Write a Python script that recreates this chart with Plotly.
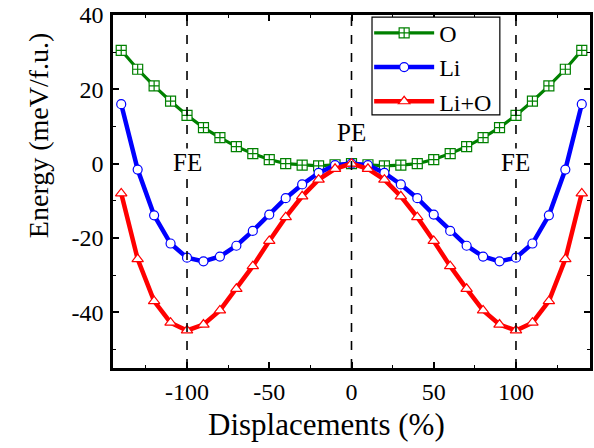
import plotly.graph_objects as go

# ---- data ----
displacement = [-140, -130, -120, -110, -100, -90, -80, -70, -60, -50, -40, -30, -20, -10, 0,
                10, 20, 30, 40, 50, 60, 70, 80, 90, 100, 110, 120, 130, 140]
energy_O = [30.5, 25.4, 20.9, 16.8, 13.0, 9.7, 7.0, 4.6, 2.7, 1.1, 0.0, -0.4, -0.6, -0.3, 0.0,
            -0.3, -0.6, -0.4, 0.0, 1.1, 2.7, 4.6, 7.0, 9.7, 13.0, 16.8, 20.9, 25.4, 30.5]
energy_Li = [16.0, -1.6, -13.9, -21.5, -25.3, -26.3, -25.0, -22.1, -18.1, -13.7, -9.3, -5.6, -2.5, -0.4, 0.0,
             -0.4, -2.5, -5.6, -9.3, -13.7, -18.1, -22.1, -25.0, -26.3, -25.3, -21.5, -13.9, -1.6, 16.0]
energy_LiO = [-8.0, -25.7, -37.0, -42.8, -44.9, -43.3, -39.5, -33.7, -27.6, -20.8, -14.4, -8.8, -4.3, -1.4, 0.0,
              -1.4, -4.3, -8.8, -14.4, -20.8, -27.6, -33.7, -39.5, -43.3, -44.9, -42.8, -37.0, -25.7, -8.0]
phase_x = [-100, 0, 100]
phase_label_y = [0.3, 8.3, 0.3]
phase_labels = ["FE", "PE", "FE"]
x_ticks = [-100, -50, 0, 50, 100]
x_tick_labels = ["-100", "-50", "0", "50", "100"]
y_ticks = [-40, -20, 0, 20, 40]
y_tick_labels = ["-40", "-20", "0", "20", "40"]

FONT = "Liberation Serif"

fig = go.Figure()
fig.add_trace(go.Scatter(
    x=displacement, y=energy_O, name="O", mode="lines+markers",
    line=dict(color="#008000", width=3.2),
    marker=dict(symbol="square-cross", size=10, color="white",
                line=dict(color="#008000", width=1.2)),
))
fig.add_trace(go.Scatter(
    x=displacement, y=energy_Li, name="Li", mode="lines+markers",
    line=dict(color="#0000FF", width=4.5),
    marker=dict(symbol="circle", size=9, color="white",
                line=dict(color="#0000FF", width=1.2)),
))
fig.add_trace(go.Scatter(
    x=displacement, y=energy_LiO, name="Li+O", mode="lines+markers",
    line=dict(color="#FF0000", width=4.5),
    marker=dict(symbol="triangle-up", size=10, color="white",
                line=dict(color="#FF0000", width=1.2)),
))

for px in phase_x:
    fig.add_shape(type="line", xref="x", yref="paper", x0=px, x1=px, y0=0, y1=1,
                  line=dict(color="black", width=1.6, dash="dash"))

# legend frame
fig.add_shape(type="rect", xref="paper", yref="paper", x0=0.543, x1=0.811, y0=0.717, y1=0.994,
              line=dict(color="black", width=1.2), fillcolor="white", layer="above")

for px, py, lab in zip(phase_x, phase_label_y, phase_labels):
    fig.add_annotation(x=px, y=py, xref="x", yref="y", text=lab, showarrow=False,
                       xanchor="center", yanchor="middle",
                       font=dict(family=FONT, size=25, color="black"),
                       bgcolor="white", borderpad=0)

# axis titles as annotations (positioned as in the reference)
fig.add_annotation(x=-0.157, y=0.66, xref="paper", yref="paper", text="Energy (meV/f.u.)",
                   textangle=-90, showarrow=False, xanchor="center", yanchor="middle",
                   font=dict(family=FONT, size=28, color="black"))
fig.add_annotation(x=0.447, y=-0.161, xref="paper", yref="paper", text="Displacements (%)",
                   showarrow=False, xanchor="center", yanchor="middle",
                   font=dict(family=FONT, size=31, color="black"))

axis_common = dict(showline=True, linecolor="black", linewidth=2.5, mirror="ticks",
                   ticks="inside", ticklen=6, tickwidth=1.5, tickcolor="black",
                   showgrid=False, zeroline=False, ticklabeloverflow="allow",
                   tickfont=dict(family=FONT, size=24, color="black"))

fig.update_xaxes(range=[-145, 145], tickvals=x_ticks, ticktext=x_tick_labels,
                 minor=dict(dtick=25, tick0=0, ticks="inside", ticklen=3, tickwidth=1.2, tickcolor="black"),
                 ticklabelstandoff=0, **axis_common)
fig.update_yaxes(range=[-55, 40], tickvals=y_ticks, ticktext=y_tick_labels,
                 minor=dict(dtick=10, tick0=0, ticks="inside", ticklen=3, tickwidth=1.2, tickcolor="black"),
                 ticklabelstandoff=2, **axis_common)

fig.update_layout(
    width=594, height=448,
    margin=dict(l=113, r=4, t=15, b=80, autoexpand=False),
    paper_bgcolor="white", plot_bgcolor="white",
    font=dict(family=FONT, color="black"),
    showlegend=True,
    legend=dict(x=0.537, y=1.012, xanchor="left", yanchor="top",
                bgcolor="rgba(0,0,0,0)", borderwidth=0,
                font=dict(family=FONT, size=24), itemwidth=60,
                tracegroupgap=0),
)

# remove the default 8px page margin so the 594x448 figure fills the window
fig.write_html("out.html", config={"displayModeBar": False},
               post_script="document.body.style.margin='0';")
